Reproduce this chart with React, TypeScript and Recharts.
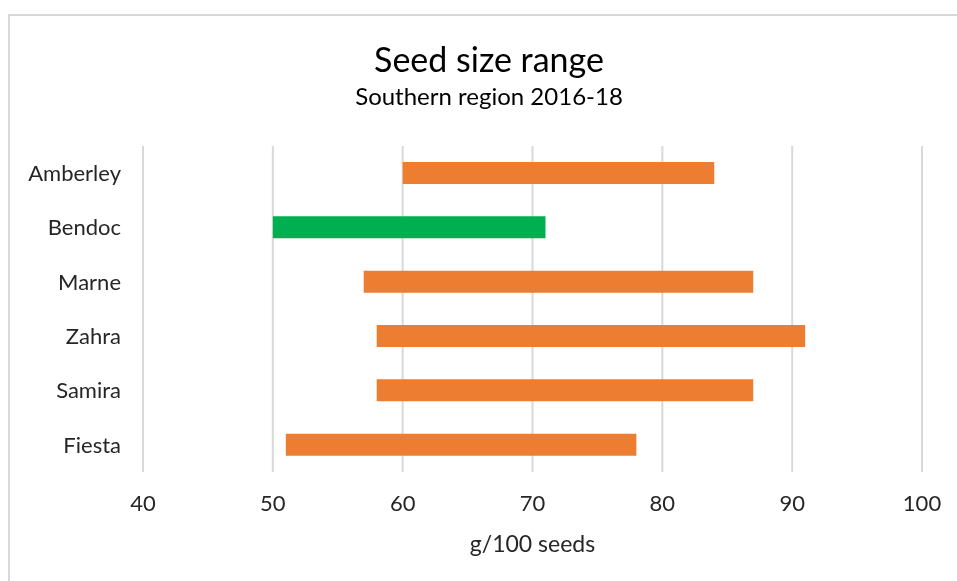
import { BarChart, Bar, XAxis, YAxis, CartesianGrid, Cell } from "recharts";

const varieties = ["Amberley", "Bendoc", "Marne", "Zahra", "Samira", "Fiesta"];
const minSize = [60, 50, 57, 58, 58, 51];
const maxSize = [84, 71, 87, 91, 87, 78];
const xTicks = [40, 50, 60, 70, 80, 90, 100];
const highlight = "Bendoc";

const data = varieties.map((name, i) => ({
  name,
  range: [minSize[i], maxSize[i]],
}));

const font = "Lato, 'Open Sans', sans-serif";

const titleStyle = {
  position: "absolute" as const,
  left: 479,
  transform: "translateX(-50%)",
  whiteSpace: "nowrap" as const,
};

export default function App() {
  return (
    <div
      style={{
        position: "fixed",
        left: 8,
        top: 14,
        width: 960,
        height: 580,
        borderTop: "2px solid #d9d9d9",
        borderLeft: "2px solid #d9d9d9",
        fontFamily: font,
        color: "#000",
        overflow: "hidden",
      }}
    >
      <div style={{ ...titleStyle, top: 22, fontSize: 34, lineHeight: "42px" }}>
        Seed size range
      </div>
      <div style={{ ...titleStyle, top: 65, fontSize: 24, lineHeight: "30px" }}>
        Southern region 2016-18
      </div>
      <BarChart
        width={945}
        height={555}
        layout="vertical"
        data={data}
        margin={{ top: 130, right: 33, bottom: 0, left: 0 }}
        barCategoryGap="30%"
      >
        <CartesianGrid horizontal={false} stroke="#d9d9d9" strokeWidth={2} />
        <XAxis
          type="number"
          domain={[40, 100]}
          ticks={xTicks}
          axisLine={false}
          tickLine={false}
          tickMargin={17}
          height={99}
          tick={{ fill: "#262626", fontSize: 22, fontFamily: font }}
          label={{ value: "g/100 seeds", position: "insideTop", offset: 64, fill: "#262626", fontSize: 23, fontFamily: font }}
        />
        <YAxis
          type="category"
          dataKey="name"
          width={133}
          axisLine={false}
          tickLine={false}
          tickSize={0}
          tickMargin={22}
          tick={{ fill: "#262626", fontSize: 22, fontFamily: font }}
        />
        <Bar dataKey="range" barSize={22} isAnimationActive={false}>
          {data.map((d) => (
            <Cell key={d.name} fill={d.name === highlight ? "#00b050" : "#ed7d31"} />
          ))}
        </Bar>
      </BarChart>
    </div>
  );
}
